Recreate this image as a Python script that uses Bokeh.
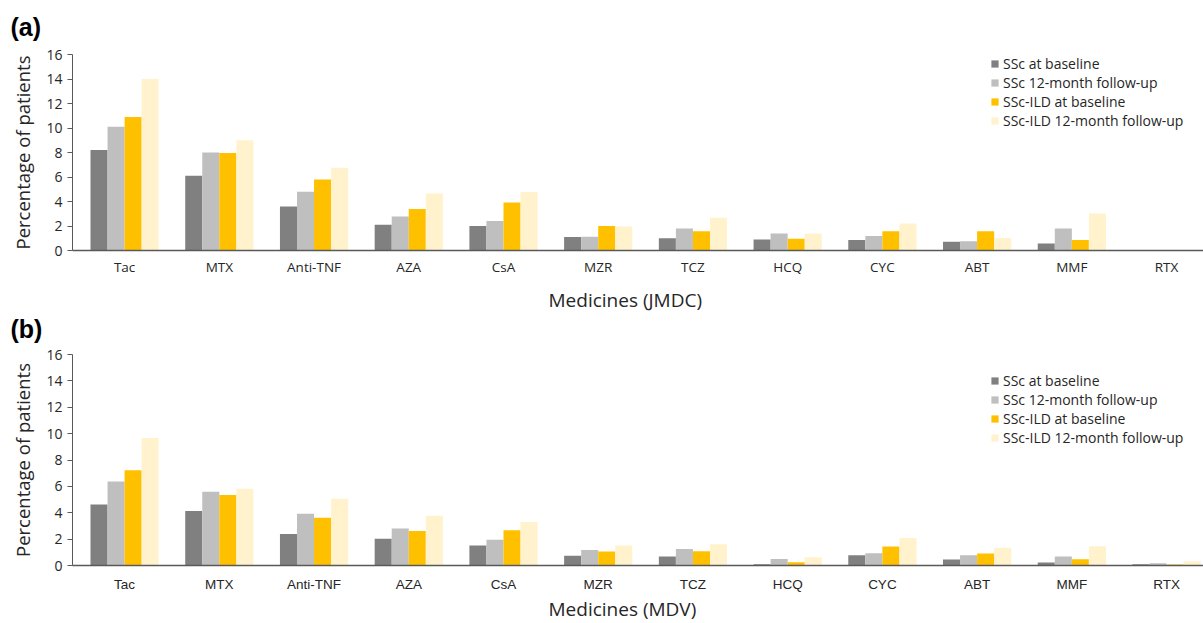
from bokeh.plotting import figure
from bokeh.models import ColumnDataSource, Range1d, FixedTicker, Title
from bokeh.transform import dodge
from bokeh.layouts import column
from bokeh.embed import file_html
from bokeh.resources import INLINE

categories = ["Tac", "MTX", "Anti-TNF", "AZA", "CsA", "MZR", "TCZ", "HCQ", "CYC", "ABT", "MMF", "RTX"]
series_names = ["SSc at baseline", "SSc 12-month follow-up", "SSc-ILD at baseline", "SSc-ILD 12-month follow-up"]
series_colors = ["#808080", "#BFBFBF", "#FFC000", "#FFF2CC"]
y_ticks = [0, 2, 4, 6, 8, 10, 12, 14, 16]

# (a) JMDC
jmdc_ssc_base = [8.2, 6.1, 3.6, 2.1, 2.0, 1.1, 1.0, 0.9, 0.85, 0.72, 0.57, 0.0]
jmdc_ssc_12m = [10.1, 8.0, 4.8, 2.78, 2.4, 1.12, 1.8, 1.38, 1.19, 0.76, 1.8, 0.0]
jmdc_ild_base = [10.9, 7.95, 5.8, 3.38, 3.92, 2.0, 1.57, 0.95, 1.57, 1.57, 0.85, 0.0]
jmdc_ild_12m = [14.0, 9.0, 6.75, 4.65, 4.78, 1.95, 2.68, 1.38, 2.21, 1.03, 3.02, 0.0]

# (b) MDV
mdv_ssc_base = [4.63, 4.13, 2.39, 2.02, 1.51, 0.73, 0.68, 0.1, 0.78, 0.45, 0.23, 0.1]
mdv_ssc_12m = [6.37, 5.59, 3.93, 2.8, 1.96, 1.18, 1.26, 0.5, 0.93, 0.78, 0.68, 0.18]
mdv_ild_base = [7.23, 5.34, 3.63, 2.62, 2.67, 1.06, 1.08, 0.24, 1.44, 0.91, 0.48, 0.08]
mdv_ild_12m = [9.67, 5.82, 5.06, 3.77, 3.3, 1.51, 1.61, 0.63, 2.09, 1.34, 1.46, 0.33]

FONT = "Open Sans"
TXT = "#262626"
AX = "#595959"


def letter_title(text, vertical_align, standoff):
    return Title(text=text, align="left", offset=-62, standoff=standoff,
                 vertical_align=vertical_align,
                 text_font="Liberation Sans", text_font_style="bold",
                 text_font_size="25px", text_color="#000000")


def make_panel(vals, xtitle, height, top, bottom, tick_font, tick_standoff,
               xtitle_standoff, leg_xy):
    src = ColumnDataSource(dict(idx=list(range(len(categories))),
                                s0=vals[0], s1=vals[1], s2=vals[2], s3=vals[3]))
    p = figure(width=1203, height=height, output_backend="svg", toolbar_location=None,
               x_range=Range1d(-0.55, 11.39), y_range=Range1d(0, 16),
               min_border_left=72, min_border_right=0, min_border_top=top,
               min_border_bottom=bottom)
    p.outline_line_color = None
    p.xgrid.grid_line_color = None
    p.ygrid.grid_line_color = None
    p.background_fill_color = "white"
    p.border_fill_color = "white"

    offsets = [-0.27, -0.09, 0.09, 0.27]
    for i, (name, col) in enumerate(zip(series_names, series_colors)):
        p.vbar(x=dodge("idx", offsets[i]), top="s%d" % i, width=0.18, source=src,
               fill_color=col, line_color=None, legend_label=name)

    xa = p.xaxis[0]
    xa.ticker = FixedTicker(ticks=list(range(len(categories))))
    xa.major_label_overrides = {i: c for i, c in enumerate(categories)}
    xa.major_tick_line_color = None
    xa.minor_tick_line_color = None
    xa.major_tick_out = 0
    xa.major_tick_in = 0
    xa.major_label_standoff = tick_standoff
    xa.axis_line_color = AX
    xa.axis_line_width = 1.5
    xa.major_label_text_font = tick_font
    xa.major_label_text_font_size = "13.5px"
    xa.major_label_text_color = TXT

    ya = p.yaxis[0]
    ya.ticker = FixedTicker(ticks=y_ticks)
    ya.minor_tick_line_color = None
    ya.major_tick_out = 5
    ya.major_tick_in = 0
    ya.major_tick_line_color = AX
    ya.axis_line_color = AX
    ya.major_label_standoff = 5
    ya.major_label_text_font = FONT
    ya.major_label_text_font_size = "14px"
    ya.major_label_text_color = TXT

    p.add_layout(Title(text="Percentage of patients", align="center",
                       standoff=15, vertical_align="middle",
                       text_font=FONT, text_font_style="normal",
                       text_font_size="18.5px", text_color=TXT), "left")
    p.add_layout(Title(text=xtitle, align="left", offset=476, standoff=xtitle_standoff,
                       vertical_align="middle",
                       text_font=FONT, text_font_style="normal",
                       text_font_size="19px", text_color=TXT), "below")

    lg = p.legend[0]
    lg.location = leg_xy
    lg.orientation = "vertical"
    lg.background_fill_alpha = 0
    lg.border_line_color = None
    lg.padding = 0
    lg.margin = 0
    lg.spacing = 0
    lg.glyph_width = 9
    lg.glyph_height = 9
    lg.label_height = 18
    lg.label_standoff = 4
    lg.label_text_font = FONT
    lg.label_text_font_size = "14px"
    lg.label_text_color = TXT
    return p


pa = make_panel([jmdc_ssc_base, jmdc_ssc_12m, jmdc_ild_base, jmdc_ild_12m],
                "Medicines (JMDC)", 344, 52, 94, FONT, 7, 14, (918, 120))
pa.add_layout(letter_title("(a)", "top", 24), "above")
# panel (b)'s letter sits in the strip between the two charts
pa.add_layout(letter_title("(b)", "top", -11), "below")

pb = make_panel([mdv_ssc_base, mdv_ssc_12m, mdv_ild_base, mdv_ild_12m],
                "Medicines (MDV)", 279, 10, 58, "Liberation Sans", 11, 1, (918, 118))

layout = column(pa, pb, spacing=0)
open("out.html", "w").write(file_html(layout, INLINE))
